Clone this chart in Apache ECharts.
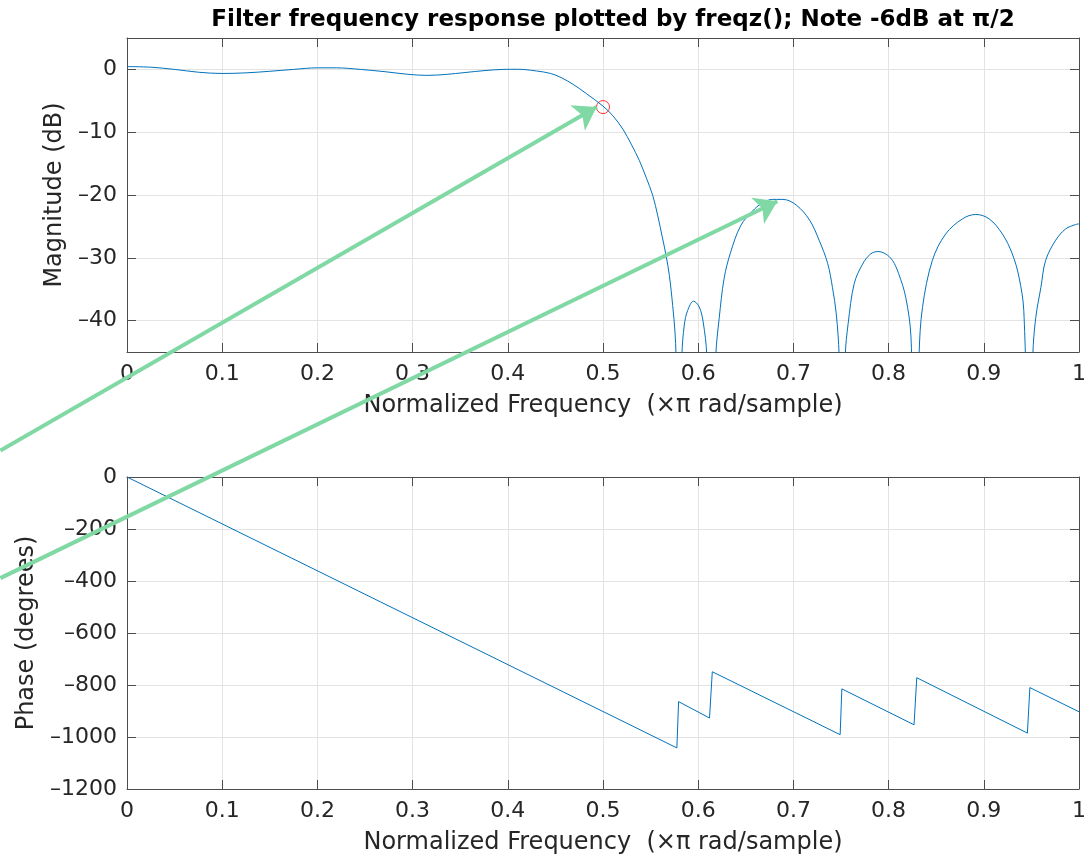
<!DOCTYPE html>
<html>
<head>
<meta charset="utf-8">
<title>Filter frequency response</title>
<script src="https://cdn.jsdelivr.net/npm/echarts@6/dist/echarts.min.js"></script>
<style>
  html, body { margin: 0; padding: 0; background: #fff; }
  #main { width: 1091px; height: 856px; }
</style>
</head>
<body>
<div id="main"></div>
<script>
// normalized frequency (x pi rad/sample) vs magnitude in dB
// (nulls go to -70 so they run off the bottom of the axes)
var magPoints = [
    [0, 0.45], [0.025, 0.35], [0.05, 0.0], [0.075, -0.45], [0.1, -0.65], [0.125, -0.55],
    [0.15, -0.3], [0.175, 0.0], [0.2, 0.25], [0.22, 0.25], [0.245, 0.0], [0.27, -0.35],
    [0.295, -0.78], [0.315, -0.95], [0.335, -0.8], [0.355, -0.5], [0.375, -0.2], [0.395, 0.0],
    [0.41, 0.02], [0.43, -0.25], [0.445, -0.65], [0.456, -1.3], [0.4686, -2.38], [0.4826, -3.86],
    [0.5, -5.85], [0.5105, -7.41], [0.5209, -9.52], [0.5296, -11.9], [0.5383, -14.55], [0.5453, -17.2],
    [0.5523, -20.1], [0.5575, -23.3], [0.5627, -27.0], [0.5662, -29.6], [0.5697, -32.8], [0.5732, -37.6],
    [0.5756, -41.8], [0.5767, -45.5], [0.5795, -70], [0.5829, -45.5], [0.5854, -40.7], [0.5889, -38.4],
    [0.5951, -36.9], [0.601, -37.8], [0.6052, -40.2], [0.609, -45.5], [0.6135, -70], [0.6185, -45.5],
    [0.622, -39.7], [0.6272, -33.3], [0.6341, -29.1], [0.6446, -24.9], [0.6568, -22.6], [0.667, -21.3],
    [0.678, -20.7], [0.689, -20.7], [0.703, -21.6], [0.717, -24.0], [0.727, -27.2], [0.736, -30.9],
    [0.741, -34.7], [0.745, -38.9], [0.748, -45.5], [0.751, -70], [0.7545, -45.5], [0.7575, -40.5],
    [0.7639, -34.1], [0.7727, -31.0], [0.781, -29.4], [0.789, -29.0], [0.797, -29.4], [0.804, -30.4],
    [0.8105, -32.5], [0.818, -36.3], [0.8235, -42.6], [0.828, -70], [0.832, -45.5], [0.8356, -37.9],
    [0.846, -30.4], [0.86, -26.2], [0.8776, -23.8], [0.8916, -23.1], [0.9056, -23.8], [0.9195, -26.2],
    [0.93, -29.4], [0.937, -33.1], [0.942, -38.4], [0.9485, -70], [0.9515, -45.5], [0.9546, -39.5],
    [0.96, -34.7], [0.965, -30.4], [0.9755, -27.2], [0.986, -25.4], [0.9965, -24.7], [1, -24.6]
];

// unwrapped phase in degrees, corners of the sawtooth
var phasePoints = [
    [0, 0], [0.5776, -1042], [0.5794, -864], [0.6119, -927], [0.6148, -749],
    [0.7491, -991], [0.7509, -815], [0.8267, -953], [0.8296, -772],
    [0.9458, -985], [0.9484, -810], [1, -903]
];

var magTicks = [0, -10, -20, -30, -40];
var markerPt = [[0.5, -6]];

// green annotation arrows, start/end in magnitude-axes units
var arrowLines = [
    [[-0.133, -60.7], [0.4933, -6.0]],
    [[-0.133, -81.0], [0.6832, -21.0]]
];

var txt = '#262626';
var axisCol = '#4d4d4d';
var gridCol = '#e3e3e3';
var fontFam = 'DejaVu Sans';

function fmt(v) {
    return String(v).replace('-', '\u2013');
}

function xAx(grid, pos) {
    var main = pos === 'bottom';
    return {
        type: 'value', gridIndex: grid, position: pos,
        min: 0, max: 1, interval: 0.1,
        name: main ? 'Normalized Frequency  (\u00d7\u03c0 rad/sample)' : '',
        nameLocation: 'middle', nameGap: 42,
        nameTextStyle: { color: txt, fontSize: 24, fontFamily: fontFam },
        axisLine: { show: true, onZero: false, lineStyle: { color: axisCol, width: 1 } },
        axisTick: { show: true, inside: true, length: 9, lineStyle: { color: axisCol } },
        axisLabel: { show: main, color: txt, fontSize: 22, fontFamily: fontFam, margin: 11, formatter: fmt },
        splitLine: { show: main, lineStyle: { color: gridCol, width: 1 } }
    };
}

function yAx(grid, pos, extra) {
    var main = pos === 'left';
    var a = {
        type: 'value', gridIndex: grid, position: pos,
        nameLocation: 'middle',
        nameTextStyle: { color: txt, fontSize: 24, fontFamily: fontFam },
        axisLine: { show: true, onZero: false, lineStyle: { color: axisCol, width: 1 } },
        axisTick: { show: true, inside: true, length: 9, lineStyle: { color: axisCol } },
        axisLabel: { show: main, color: txt, fontSize: 22, fontFamily: fontFam, margin: 10, formatter: fmt },
        splitLine: { show: main, lineStyle: { color: gridCol, width: 1 } }
    };
    for (var k in extra) {
        if (typeof extra[k] === 'object' && a[k]) {
            for (var j in extra[k]) a[k][j] = extra[k][j];
        } else {
            a[k] = extra[k];
        }
    }
    if (!main) a.name = '';
    return a;
}

var myChart = echarts.init(document.getElementById('main'));

var option = {
    backgroundColor: '#ffffff',
    animation: false,
    title: {
        text: 'Filter frequency response plotted by freqz(); Note -6dB at \u03c0/2',
        left: 608, top: 4, textAlign: 'center',
        textStyle: { color: '#000', fontSize: 23, fontWeight: 'bold', fontFamily: fontFam }
    },
    grid: [
        { left: 127, right: 12, top: 38, height: 314, outerBoundsMode: 'none' },
        { left: 127, right: 12, top: 477, height: 312, outerBoundsMode: 'none' }
    ],
    xAxis: [xAx(0, 'bottom'), xAx(0, 'top'), xAx(1, 'bottom'), xAx(1, 'top')],
    yAxis: [
        yAx(0, 'left', { min: -45, max: 5, name: 'Magnitude (dB)', nameGap: 47,
            axisTick: { customValues: magTicks }, axisLabel: { customValues: magTicks } }),
        yAx(0, 'right', { min: -45, max: 5,
            axisTick: { customValues: magTicks }, axisLabel: { customValues: magTicks } }),
        yAx(1, 'left', { min: -1200, max: 0, interval: 200, name: 'Phase (degrees)', nameGap: 77 }),
        yAx(1, 'right', { min: -1200, max: 0, interval: 200 })
    ],
    series: [
        {
            name: 'Magnitude', type: 'line', xAxisIndex: 0, yAxisIndex: 0,
            data: magPoints, showSymbol: false, smooth: 0.35,
            clip: true, silent: true,
            lineStyle: { color: '#0072bd', width: 1 }
        },
        {
            name: '-6dB', type: 'scatter', xAxisIndex: 0, yAxisIndex: 0,
            data: markerPt, symbol: 'circle', symbolSize: 13, silent: true,
            itemStyle: { color: 'rgba(0,0,0,0)', borderColor: '#ff0000', borderWidth: 1 }
        },
        {
            name: 'Phase', type: 'line', xAxisIndex: 2, yAxisIndex: 2,
            data: phasePoints, showSymbol: false, silent: true,
            lineStyle: { color: '#0072bd', width: 1 }
        },
        {
            name: 'arrows', type: 'lines', coordinateSystem: 'cartesian2d',
            xAxisIndex: 0, yAxisIndex: 0, clip: false, silent: true, z: 10,
            symbol: ['none', 'arrow'], symbolSize: 22,
            itemStyle: { color: '#80d8a4' },
            lineStyle: { color: '#80d8a4', width: 4, opacity: 1, curveness: 0 },
            data: arrowLines.map(function(a) { return { coords: a }; })
        }
    ]
};

myChart.setOption(option);
</script>
</body>
</html>
